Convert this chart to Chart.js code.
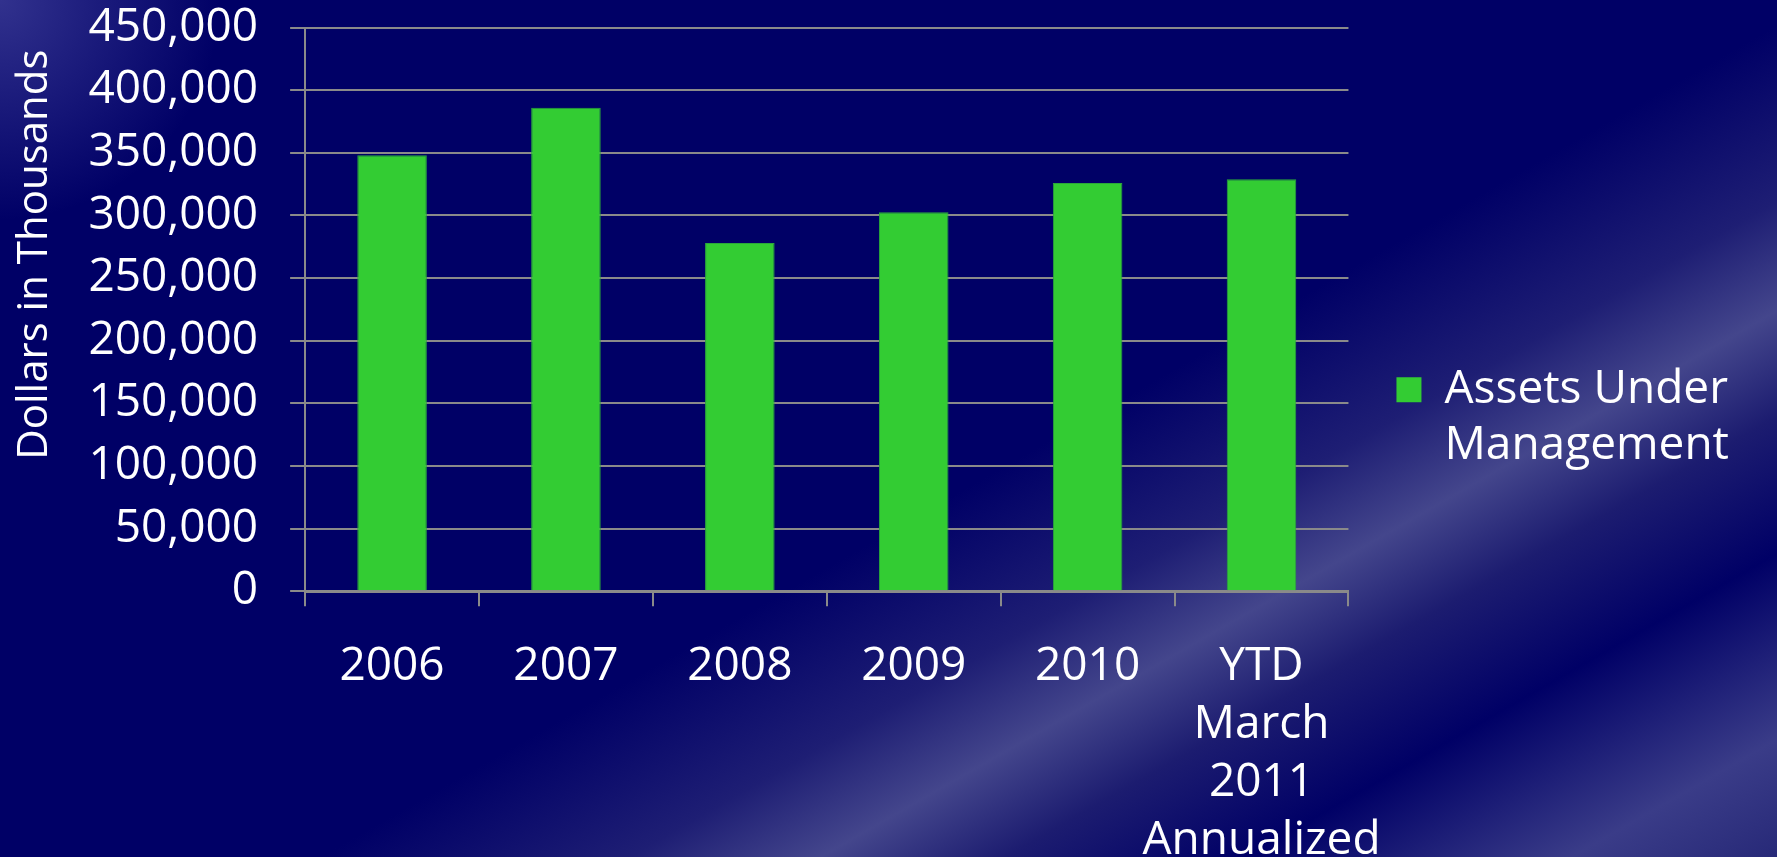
<!DOCTYPE html>
<html>
<head>
<meta charset="utf-8">
<script src="https://cdn.jsdelivr.net/npm/chart.js@4.4.1/dist/chart.umd.min.js"></script>
<style>
  html, body { margin: 0; padding: 0; background: #000066; overflow: hidden; }
  #wrap { width: 1777px; height: 902px; position: relative; }
</style>
</head>
<body>
<div id="wrap"><canvas id="aum"></canvas></div>
<script>
// data
const categories = ['2006', '2007', '2008', '2009', '2010', ['YTD', 'March', '2011', 'Annualized']];
const assets = [348000, 386000, 278000, 302500, 326000, 329000];
const seriesName = ['Assets Under', 'Management'];
const yTitle = 'Dollars in Thousands';

const FONT = '"Open Sans", Lato, sans-serif';
const GRID = '#8a8a8a';

// slide background: navy with a soft diagonal light streak
const slideBg = {
    id: 'slideBg',
    beforeDraw(chart) {
        const c = chart.ctx;
        const w = chart.width, h = chart.height;
        c.save();
        const g = c.createLinearGradient(579, -387, 1422, 1089);
        g.addColorStop(0, '#000066');
        g.addColorStop(0.56, '#000066');
        g.addColorStop(0.65, '#1e1e74');
        g.addColorStop(0.706, '#44468c');
        g.addColorStop(0.76, '#1c1c70');
        g.addColorStop(0.83, '#000066');
        g.addColorStop(0.925, '#3a3c88');
        g.addColorStop(1, '#222474');
        c.fillStyle = g;
        c.fillRect(0, 0, w, h);
        const r = c.createRadialGradient(0, 0, 0, 0, 0, 220);
        r.addColorStop(0, 'rgba(110,110,190,0.45)');
        r.addColorStop(1, 'rgba(110,110,190,0)');
        c.fillStyle = r;
        c.fillRect(0, 0, 260, 260);
        c.restore();
    }
};

const ctx = document.getElementById('aum').getContext('2d');

new Chart(ctx, {
    type: 'bar',
    data: {
        labels: categories,
        datasets: [{
            label: seriesName.join(' '),
            data: assets,
            backgroundColor: '#33cc33',
            borderColor: '#2aa83a',
            borderWidth: 1,
            categoryPercentage: 1,
            barPercentage: 0.4
        }]
    },
    options: {
        responsive: true,
        maintainAspectRatio: false,
        animation: false,
        layout: { padding: { left: 10, top: 0, right: 39, bottom: 0 } },
        plugins: {
            tooltip: { enabled: false },
            legend: {
                position: 'right',
                labels: {
                    color: '#ffffff',
                    font: { family: FONT, size: 46, lineHeight: 1.22 },
                    boxWidth: 25,
                    boxHeight: 25,
                    padding: 48,
                    generateLabels: function (chart) {
                        const ds = chart.data.datasets[0];
                        return [{
                            // trailing blank line lifts the two visible lines a bit
                            text: seriesName.concat(['']),
                            fillStyle: ds.backgroundColor,
                            strokeStyle: ds.backgroundColor,
                            lineWidth: 0,
                            fontColor: '#ffffff',
                            datasetIndex: 0,
                            hidden: false
                        }];
                    }
                }
            }
        },
        scales: {
            x: {
                grid: {
                    display: true,
                    drawOnChartArea: false,
                    drawTicks: true,
                    tickLength: 15,
                    color: GRID,
                    lineWidth: 2
                },
                border: { color: GRID, width: 3 },
                ticks: {
                    color: '#ffffff',
                    font: { family: FONT, size: 46, lineHeight: 1.26 },
                    padding: 32,
                    maxRotation: 0,
                    autoSkip: false
                }
            },
            y: {
                min: 0,
                max: 450000,
                grid: {
                    color: GRID,
                    lineWidth: 2,
                    // only the 15px next to the axis is painted; the rest is the label gap
                    tickLength: 47,
                    tickBorderDash: [0, 32, 15, 200]
                },
                border: { color: GRID, width: 2 },
                ticks: {
                    stepSize: 50000,
                    autoSkip: false,
                    color: '#ffffff',
                    font: { family: FONT, size: 46 },
                    padding: 0
                },
                title: {
                    display: true,
                    // two trailing spaces nudge the top-aligned title down a little
                    text: yTitle + '  ',
                    color: '#ffffff',
                    align: 'end',
                    font: { family: FONT, size: 42 },
                    padding: { top: 0, bottom: 28 }
                }
            }
        }
    },
    plugins: [slideBg]
});
</script>
</body>
</html>
